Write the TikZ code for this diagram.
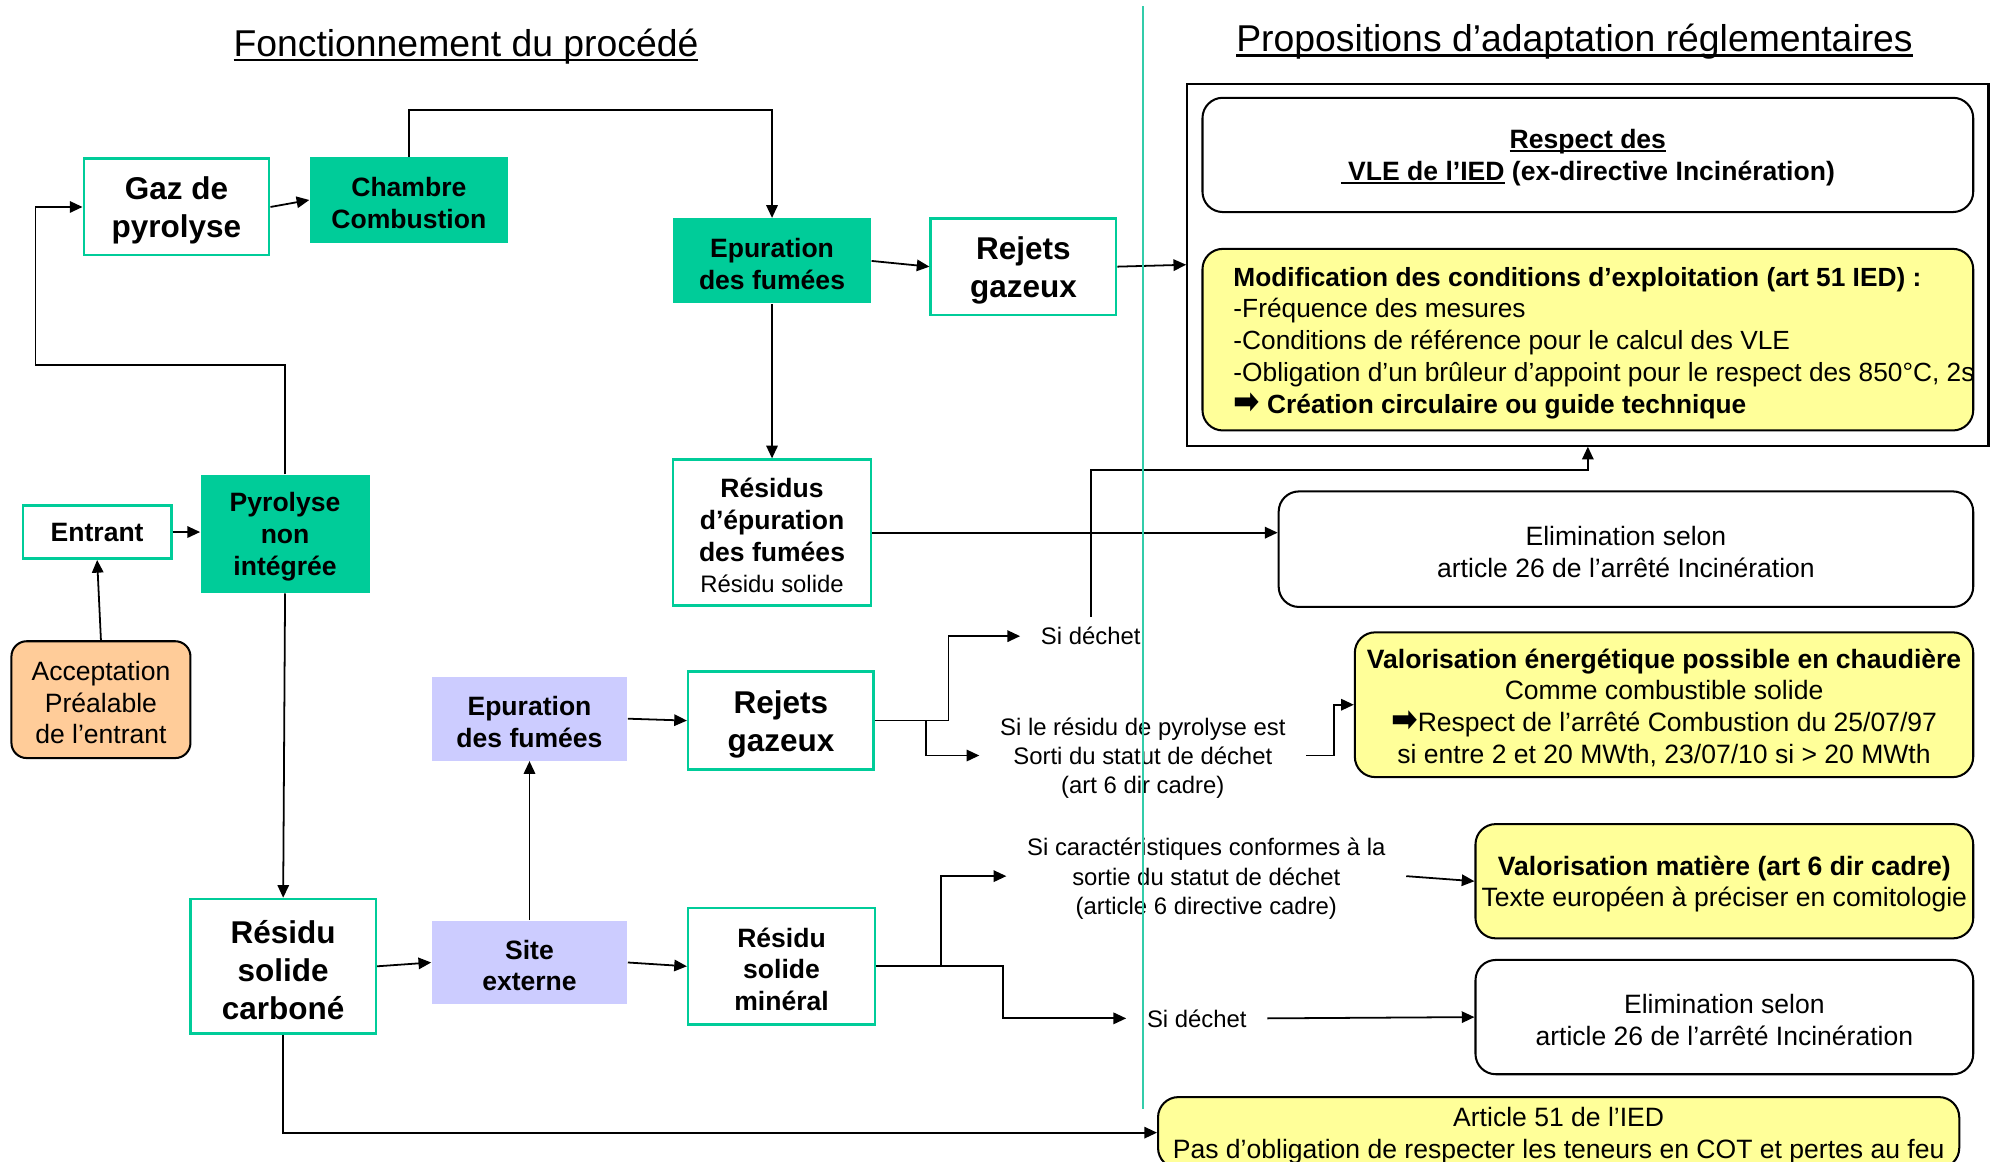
\documentclass[tikz,border=0pt]{standalone}
\usepackage{fontspec}
\setmainfont{Liberation Sans}
\newfontfamily\symfont{DejaVu Sans}
\usetikzlibrary{arrows.meta,calc}

\definecolor{procgreen}{HTML}{00CC99}
\definecolor{lavender}{HTML}{CCCCFF}
\definecolor{paleyellow}{HTML}{FFFF99}
\definecolor{peach}{HTML}{FFCC99}
\definecolor{divider}{HTML}{33CCAA}

% font sizes
\newcommand\fbig{\fontsize{12.4}{15}\selectfont\bfseries}
\newcommand\fmed{\fontsize{10.45}{12.5}\selectfont}
\newcommand\fmod{\fontsize{10.35}{12.5}\selectfont}
\newcommand\fsmall{\fontsize{9.4}{11.5}\selectfont}
\newcommand\ftitle{\fontsize{14.7}{17}\selectfont}

% underline drawn just below the baseline (descenders cross it)
\newlength\ulwd
\newcommand\ulined[1]{\settowidth\ulwd{#1}\rlap{\rule[-0.13em]{\ulwd}{0.07em}}#1}
% heavy arrow bullet
\newcommand\harrow{\scalebox{1.2}[1.35]{\symfont\bfseries ➡}}
% taller first line, so multi-line texts sit a little lower in their boxes
\newcommand\up{\rule{0pt}{0.95em}}

\begin{document}
\begin{tikzpicture}[x=0.5pt,y=-0.5pt,
  gbox/.style={draw=procgreen,line width=1pt,fill=white,align=center,inner sep=0pt},
  gfill/.style={fill=procgreen,align=center,inner sep=0pt},
  lfill/.style={fill=lavender,align=center,inner sep=0pt},
  rbox/.style={draw=black,line width=0.8pt,rounded corners=8pt,align=center,inner sep=0pt},
  ybox/.style={rbox,fill=paleyellow},
  lbl/.style={align=center,inner xsep=8pt,inner ysep=4pt,font=\fsmall},
  arr/.style={line width=0.7pt,-{Triangle[length=5pt,width=4.5pt]}},
]
\useasboundingbox (0,0) rectangle (1568,915);

% ---- titles
\node[anchor=base,font=\ftitle,inner sep=0pt] (titleL) at (367,44.6) {\ulined{Fonctionnement du procédé}};
\node[anchor=base,font=\ftitle,inner sep=0pt] (titleR) at (1240,40.7) {\ulined{Propositions d’adaptation réglementaires}};

% ---- process side
\node[gbox,minimum width=73pt,minimum height=38pt,font=\fbig] (gaz) at (139,163) {\up Gaz de\\pyrolyse};
\node[gfill,minimum width=78pt,minimum height=33.5pt,font=\fmed\bfseries] (chambre) at (322,157.5) {\up Chambre\\Combustion};
\node[gfill,minimum width=78pt,minimum height=33.5pt,font=\fmed\bfseries] (epur) at (608,205.5) {\up Epuration\\des fumées};
\node[gbox,minimum width=73pt,minimum height=38pt,font=\fbig] (rejA) at (806,210) {\up Rejets\\gazeux};
\node[gbox,minimum width=58.5pt,minimum height=21pt,font=\fmed\bfseries] (entrant) at (76.5,419) {Entrant};
\node[gfill,minimum width=66.5pt,minimum height=46.5pt,font=\fmed\bfseries] (pyro) at (224.5,420.5) {\up Pyrolyse\\non\\intégrée};
\node[rbox,rounded corners=6pt,fill=peach,minimum width=70.5pt,minimum height=46pt,font=\fmed] (accept) at (79.5,551) {\up Acceptation\\Préalable\\de l’entrant};
\node[gbox,minimum width=78pt,minimum height=57.5pt,font=\fmed\bfseries] (residus) at (608,419.5) {\up Résidus\\d’épuration\\des fumées\\{\fsmall\mdseries Résidu solide}};
\node[lfill,minimum width=77pt,minimum height=33pt,font=\fmed\bfseries] (epurB) at (417,566) {\up Epuration\\des fumées};
\node[gbox,minimum width=73pt,minimum height=38.5pt,font=\fbig] (rejB) at (615,567.5) {\up Rejets\\gazeux};
\node[lfill,minimum width=77pt,minimum height=33pt,font=\fmed\bfseries] (site) at (417,758) {\up Site\\externe};
\node[gbox,minimum width=73pt,minimum height=53pt,font=\fbig] (rsc) at (223,761) {\up Résidu\\solide\\carboné};
\node[gbox,minimum width=73.5pt,minimum height=46pt,font=\fmed\bfseries] (rsm) at (615.5,761) {\up Résidu\\solide\\minéral};

% ---- regulatory side
\node[draw=black,line width=0.8pt,minimum width=315.5pt,minimum height=142.5pt,inner sep=0pt] (cadre) at (1250.5,208.5) {};
\node[rbox,fill=white,minimum width=303.5pt,minimum height=45pt,font=\fmed\bfseries] (vle) at (1250.5,122) {\up\ulined{Respect des}\\\ulined{\ VLE de l’IED} (ex-directive Incinération)};
\node[rbox,fill=paleyellow,minimum width=303.5pt,minimum height=71.5pt] (modif) at (1250.5,267.5) {};
\node[anchor=west,align=left,font=\fmod,inner sep=0pt] (modtxt) at (971,270) {\textbf{Modification des conditions d’exploitation (art 51 IED) :}\\-Fréquence des mesures\\-Conditions de référence pour le calcul des VLE\\-Obligation d’un brûleur d’appoint pour le respect des 850°C, 2s\\\textbf{\harrow\ Création circulaire ou guide technique}};
\node[rbox,minimum width=273.5pt,minimum height=45.5pt,font=\fmed] (elimA) at (1280.5,432.5) {\up Elimination selon\\article 26 de l’arrêté Incinération};
\node[ybox,minimum width=243.5pt,minimum height=57pt,font=\fmed] (valE) at (1310.5,555) {\up\textbf{Valorisation énergétique possible en chaudière}\\Comme combustible solide\\\harrow Respect de l’arrêté Combustion du 25/07/97\\si entre 2 et 20 MWth, 23/07/10 si > 20 MWth};
\node[ybox,minimum width=196pt,minimum height=45pt,font=\fmed] (valM) at (1358,694) {\up\textbf{Valorisation matière (art 6 dir cadre)}\\Texte européen à préciser en comitologie};
\node[rbox,minimum width=196pt,minimum height=45pt,font=\fmed] (elimB) at (1358,801) {\up Elimination selon\\article 26 de l’arrêté Incinération};
\node[ybox,minimum width=315.5pt,minimum height=28pt,font=\fmed] (art51) at (1227.5,892) {\up Article 51 de l’IED\\Pas d’obligation de respecter les teneurs en COT et pertes au feu};

% ---- condition labels
\node[lbl] (sdA) at (859,501) {Si déchet};
\node[lbl] (srp) at (900,595) {\up Si le résidu de pyrolyse est\\Sorti du statut de déchet\\(art 6 dir cadre)};
\node[lbl] (scar) at (950,690) {\up Si caractéristiques conformes à la\\sortie du statut de déchet\\(article 6 directive cadre)};
\node[lbl] (sdB) at (942.5,802) {Si déchet};

\coordinate (bendA) at (0,370);

% ---- connectors
\draw[arr] (gaz.east) -- (chambre.west);
\draw[arr] (chambre.north) -- ++(0,-37) -| (epur.north);
\draw[arr] (epur.east) -- (rejA.west);
\draw[arr] (epur.south) -- (residus.north);
\draw[arr] (rejA.east) -- (cadre.west);
\draw[arr] (residus.east) -- (residus.east -| elimA.west);
\draw[arr] (entrant.east) -- (entrant.east -| pyro.west);
\draw[arr] (accept.north) -- (entrant.south);
\draw[arr] (pyro.north) -- ++(0,-86) -| ($(gaz.west)+(-37,0)$) -- (gaz.west);
\draw[arr] (pyro.south) -- (rsc.north);
\draw[arr] (rsc.east) -- (site.west);
\draw[arr] (site.north) -- (epurB.south);
\draw[arr] (site.east) -- (rsm.west);
\draw[arr] (epurB.east) -- (rejB.west);
\draw[arr] (rejB.east) -- ++(58,0) |- (sdA.west);
\draw[arr] ($(rejB.east)+(40,0)$) |- (srp.west);
\draw[arr] (sdA.north) -- (sdA.north |- bendA) -| (cadre.south);
\draw[arr] (srp.east) -- ++(22,0) |- (valE.west);
\draw[arr] (rsm.east) -- ++(51,0) |- (scar.west);
\draw[arr] (rsm.east) -- ++(100,0) |- (sdB.west);
\draw[arr] (scar.east) -- (valM.west);
\draw[arr] (sdB.east) -- (elimB.west);
\draw[arr] (rsc.south) |- (art51.west);

% ---- column divider
\draw[divider,line width=0.6pt] (900,5) -- (900,873);
\end{tikzpicture}
\end{document}
